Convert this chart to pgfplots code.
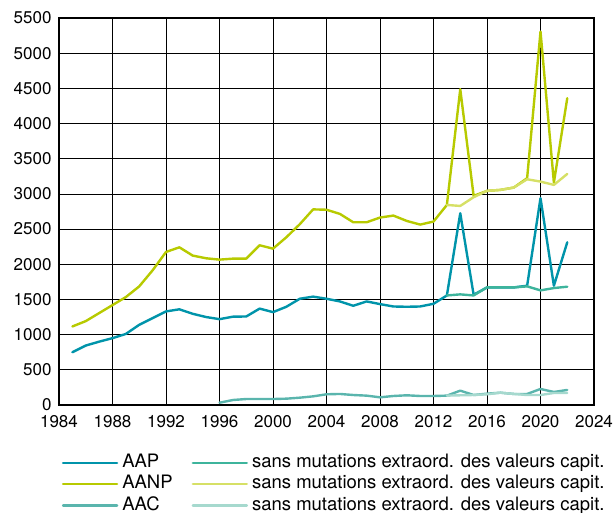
\documentclass[border=0pt]{standalone}
\usepackage{fontspec}
\setmainfont{TeX Gyre Heros}
\usepackage{pgfplots}
\pgfplotsset{compat=1.18}

\definecolor{aap}{RGB}{0,148,170}
\definecolor{aanp}{RGB}{183,202,0}
\definecolor{aac}{RGB}{90,181,173}
\definecolor{aaps}{RGB}{61,180,156}
\definecolor{aanps}{RGB}{214,224,102}
\definecolor{aacs}{RGB}{166,217,206}

\begin{document}
\begin{tikzpicture}
\path[use as bounding box] (-59pt,-108pt) rectangle (556pt,405pt);
\begin{axis}[
  scale only axis, width=535pt, height=387pt,
  xmin=1984, xmax=2024, ymin=0, ymax=5500,
  xtick={1984,1988,...,2024},
  ytick={0,500,...,5500},
  grid=major, grid style={black, line width=0.8pt},
  axis line style={black, line width=1.1pt},
  major tick length=0pt,
  /pgf/number format/1000 sep={},
  /pgf/number format/assume math mode=true,
  tick label style={font=\fontsize{17}{20}\selectfont},
  yticklabel style={xshift=-4pt},
  xticklabel style={yshift=-7pt},
  every axis plot/.append style={line width=2.4pt, line join=round, line cap=round},
  legend columns=2,
  legend cell align=left,
  legend image code/.code={\draw[#1] (0pt,0pt) -- (54pt,0pt);},
  legend style={at={(0.005,-0.127)}, anchor=north west, draw=none, fill=none,
    inner sep=0pt, row sep=4pt,
    font=\fontsize{18.5}{21}\selectfont,
    nodes={inner sep=0pt, text height=13.3pt, text depth=4pt},
    /tikz/every odd column/.append style={column sep=4pt},
    /tikz/every even column/.append style={column sep=19pt}},
]
\addplot[aap] coordinates {
  (1985,750)(1986,845)(1987,900)(1988,950)(1989,1010)(1990,1140)(1991,1235)
  (1992,1330)(1993,1360)(1994,1296)(1995,1250)(1996,1220)(1997,1255)(1998,1258)
  (1999,1370)(2000,1320)(2001,1396)(2002,1510)(2003,1540)(2004,1510)(2005,1472)
  (2006,1410)(2007,1472)(2008,1434)(2009,1400)(2010,1396)(2011,1400)(2012,1438)
  (2013,1557)(2014,2725)(2015,1567)(2016,1671)(2017,1671)(2018,1671)(2019,1695)
  (2020,2940)(2021,1695)(2022,2312)
};
\addlegendentry{AAP}
\addplot[aaps] coordinates {
  (2013,1557)(2014,1572)(2015,1557)(2016,1671)(2017,1671)(2018,1671)(2019,1686)
  (2020,1629)(2021,1662)(2022,1681)
};
\addlegendentry{sans mutations extraord. des valeurs capit.}
\addplot[aanp] coordinates {
  (1985,1116)(1986,1192)(1987,1306)(1988,1420)(1989,1534)(1990,1686)(1991,1914)
  (1992,2175)(1993,2241)(1994,2123)(1995,2085)(1996,2066)(1997,2080)(1998,2080)
  (1999,2270)(2000,2222)(2001,2384)(2002,2569)(2003,2780)(2004,2775)(2005,2716)
  (2006,2597)(2007,2597)(2008,2664)(2009,2692)(2010,2616)(2011,2564)(2012,2607)
  (2013,2843)(2014,4488)(2015,2972)(2016,3043)(2017,3057)(2018,3090)(2019,3223)
  (2020,5308)(2021,3161)(2022,4360)
};
\addlegendentry{AANP}
\addplot[aanps] coordinates {
  (2013,2843)(2014,2829)(2015,2953)(2016,3043)(2017,3057)(2018,3090)(2019,3208)
  (2020,3175)(2021,3128)(2022,3284)
};
\addlegendentry{sans mutations extraord. des valeurs capit.}
\addplot[aac] coordinates {
  (1996,33)(1997,71)(1998,85)(1999,85)(2000,85)(2001,90)(2002,104)(2003,123)
  (2004,152)(2005,157)(2006,142)(2007,133)(2008,109)(2009,128)(2010,138)
  (2011,128)(2012,128)(2013,133)(2014,204)(2015,142)(2016,161)(2017,175)
  (2018,157)(2019,157)(2020,228)(2021,185)(2022,214)
};
\addlegendentry{AAC}
\addplot[aacs] coordinates {
  (2013,133)(2014,138)(2015,142)(2016,152)(2017,175)(2018,157)(2019,142)
  (2020,142)(2021,171)(2022,171)
};
\addlegendentry{sans mutations extraord. des valeurs capit.}
\end{axis}
\end{tikzpicture}
\end{document}
